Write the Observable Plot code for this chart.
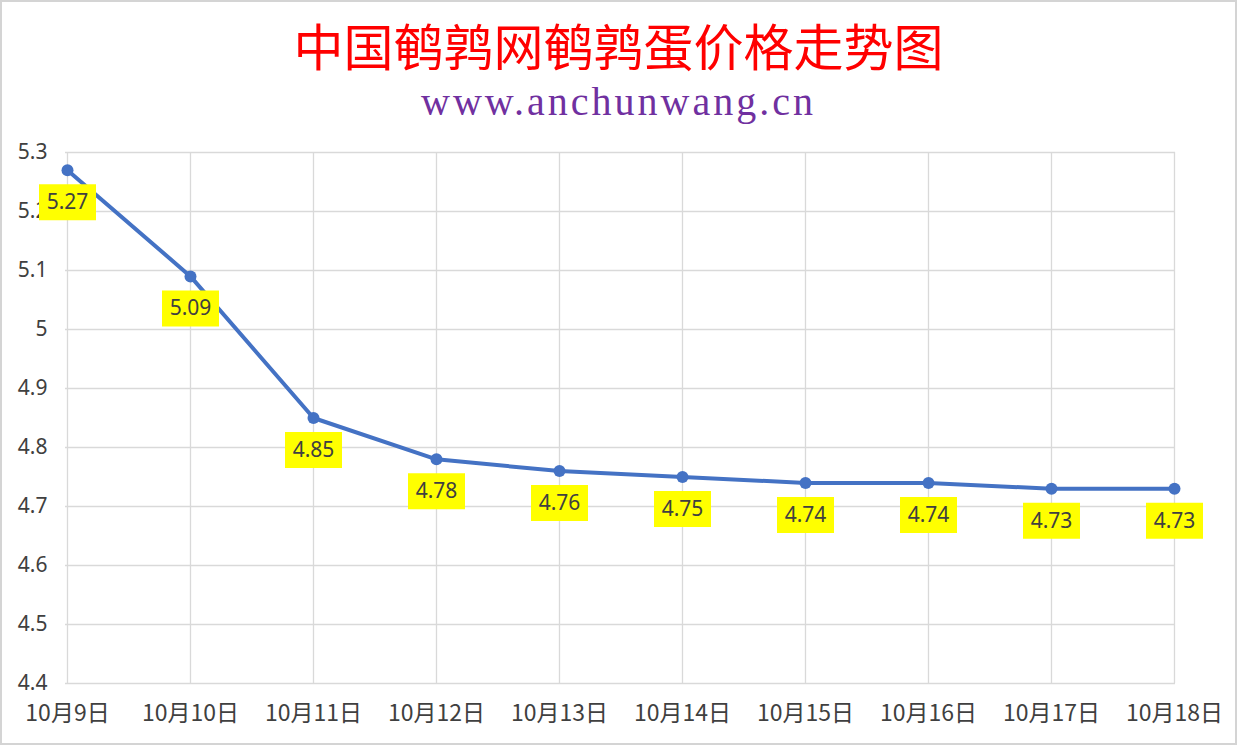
<!DOCTYPE html>
<html>
<head>
<meta charset="utf-8">
<script src="https://cdn.jsdelivr.net/npm/d3@7"></script>
<script src="https://cdn.jsdelivr.net/npm/@observablehq/plot@0.6"></script>
<style>
  html, body { margin: 0; padding: 0; background: #fff; }
  #wrap { position: relative; width: 1237px; height: 745px; overflow: hidden; background: #fff; }
  #frame { position: absolute; left: 0; top: 0; width: 1237px; height: 745px; box-sizing: border-box; border: 2px solid #d4d4d4; pointer-events: none; }
  #title { position: absolute; left: 0; top: 18px; width: 1237px; text-align: center; font-family: "Noto Sans CJK SC", sans-serif; font-size: 50px; line-height: 52px; color: #ff0000; }
  #subtitle { position: absolute; left: 0; top: 82px; width: 1237px; text-align: center; font-family: "Liberation Serif", "DejaVu Serif", serif; font-size: 40px; line-height: 40px; letter-spacing: 3px; color: #7030a0; }
  #chart { position: absolute; left: 0; top: 130px; }
</style>
</head>
<body>
<div id="wrap">
  <div id="title">中国鹌鹑网鹌鹑蛋价格走势图</div>
  <div id="subtitle">www.anchunwang.cn</div>
  <div id="chart"></div>
  <div id="frame"></div>
</div>
<script>
const dates = ["10月9日", "10月10日", "10月11日", "10月12日", "10月13日", "10月14日", "10月15日", "10月16日", "10月17日", "10月18日"];
const prices = [5.27, 5.09, 4.85, 4.78, 4.76, 4.75, 4.74, 4.74, 4.73, 4.73];
const yTicks = [4.4, 4.5, 4.6, 4.7, 4.8, 4.9, 5.0, 5.1, 5.2, 5.3];

const data = dates.map((d, i) => ({date: d, price: prices[i]}));

const labelBox = {
  draw(context) {
    context.rect(-28.5, -18, 57, 36);
  }
};

const chart = Plot.plot({
  width: 1237,
  height: 615,
  marginLeft: 65,
  marginRight: 62,
  marginTop: 22,
  marginBottom: 62,
  style: {fontFamily: "'Noto Sans', 'Noto Sans CJK SC', sans-serif", fontSize: "21px", color: "#404040", background: "transparent", overflow: "visible"},
  x: {type: "point", domain: dates, padding: 0, axis: null},
  y: {domain: [4.4, 5.3], axis: null},
  marks: [
    Plot.gridX(dates, {stroke: "#d9d9d9", strokeOpacity: 1, strokeWidth: 1.3}),
    Plot.gridY(yTicks, {stroke: "#d9d9d9", strokeOpacity: 1, strokeWidth: 1.3}),
    Plot.axisX(dates, {tickSize: 0, tickPadding: 21, fontSize: 23, fill: "#404040", label: null,
      fontFamily: "'Noto Sans CJK SC', sans-serif"}),
    Plot.axisY(yTicks, {tickSize: 0, tickPadding: 18, fontSize: 21, fill: "#404040", dy: 0, label: null,
      tickFormat: d => String(Math.round(d * 10) / 10)}),
    Plot.line(data, {x: "date", y: "price", stroke: "#4472c4", strokeWidth: 4}),
    Plot.dot(data, {x: "date", y: "price", r: 6, fill: "#4472c4", stroke: "none"}),
    Plot.dot(data, {x: "date", y: "price", r: 10, symbol: labelBox, fill: "#ffff00", stroke: "none", dy: 32}),
    Plot.text(data, {x: "date", y: "price", text: d => d.price.toFixed(2), dy: 32, fill: "#404040", fontSize: 21})
  ]
});
document.getElementById("chart").appendChild(chart);
</script>
</body>
</html>
